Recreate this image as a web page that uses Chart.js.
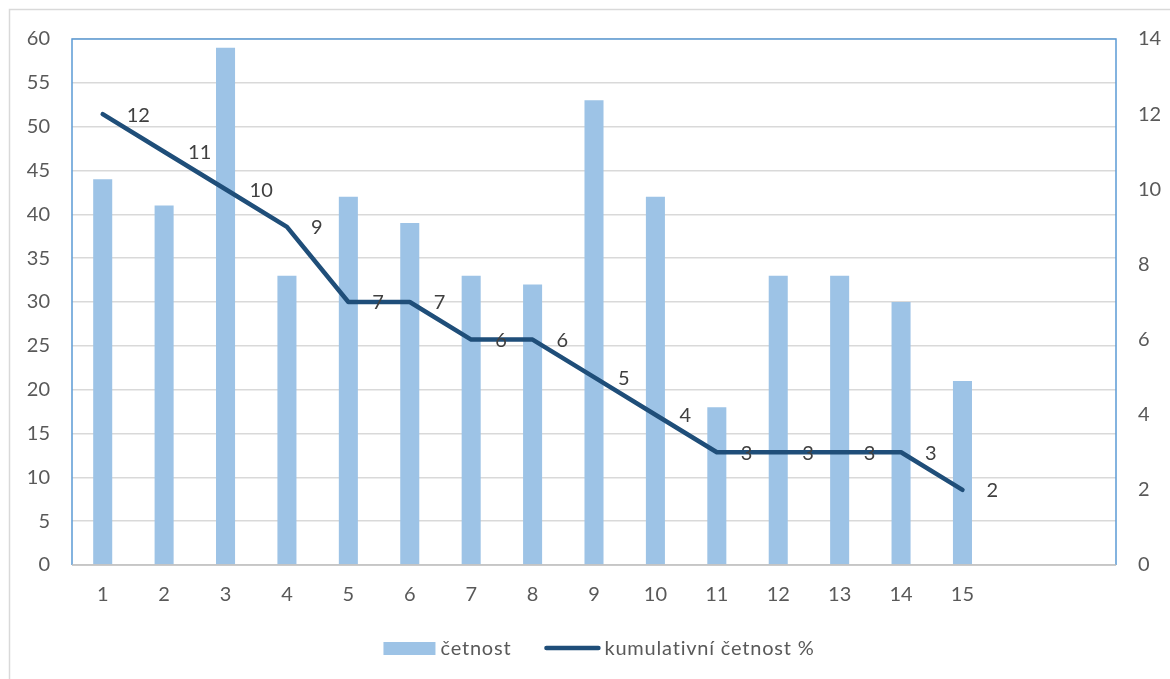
<!DOCTYPE html>
<html>
<head>
<meta charset="utf-8">
<script src="https://cdn.jsdelivr.net/npm/chart.js@4/dist/chart.umd.min.js"></script>
<style>
  html, body { margin: 0; padding: 0; background: #ffffff; }
  #wrap { width: 1170px; height: 679px; position: relative; }
</style>
</head>
<body>
<div id="wrap"><canvas id="c" width="1170" height="679"></canvas></div>
<script>
// Categories (two trailing empty slots keep the axis width)
const categories = ['1','2','3','4','5','6','7','8','9','10','11','12','13','14','15','',''];
// Frequency per category (left axis)
const cetnost = [44, 41, 59, 33, 42, 39, 33, 32, 53, 42, 18, 33, 33, 30, 21];
// Cumulative frequency % (right axis)
const kumulativni = [12, 11, 10, 9, 7, 7, 6, 6, 5, 4, 3, 3, 3, 3, 2];
// Axis tick settings
const leftTicks = { min: 0, max: 60, step: 5 };
const rightTicks = { min: 0, max: 14, step: 2 };

const FONT = 'Lato, "Open Sans", sans-serif';
const FSIZE = 20;
const BAR = '#9DC3E6';
const LINE = '#1F4E79';
const AXIS_BLUE = '#5B9BD5';
const GRID = '#D9D9D9';
const TEXT = '#595959';

// Outer chart frame and blue plot-area outline
const framePlugin = {
  id: 'frame',
  beforeDraw(chart) {
    const ctx = chart.ctx;
    ctx.save();
    ctx.fillStyle = '#ffffff';
    ctx.fillRect(0, 0, chart.width, chart.height);
    ctx.strokeStyle = '#D9D9D9';
    ctx.lineWidth = 1.5;
    ctx.strokeRect(9.5, 9.5, chart.width + 20, chart.height + 20);
    ctx.restore();
  },
  afterDatasetsDraw(chart) {
    const a = chart.chartArea, ctx = chart.ctx;
    ctx.save();
    ctx.strokeStyle = AXIS_BLUE;
    ctx.lineWidth = 1.5;
    ctx.beginPath();
    ctx.moveTo(a.left, a.bottom);
    ctx.lineTo(a.left, a.top);
    ctx.lineTo(a.right, a.top);
    ctx.lineTo(a.right, a.bottom);
    ctx.stroke();
    ctx.strokeStyle = '#BFBFBF';
    ctx.lineWidth = 1.5;
    ctx.beginPath();
    ctx.moveTo(a.left, a.bottom);
    ctx.lineTo(a.right, a.bottom);
    ctx.stroke();
    ctx.restore();
  }
};

// Value labels to the right of each line point
const lineLabels = {
  id: 'lineLabels',
  afterDatasetsDraw(chart) {
    const ctx = chart.ctx;
    const meta = chart.getDatasetMeta(1);
    const data = chart.data.datasets[1].data;
    ctx.save();
    ctx.font = FSIZE + 'px ' + FONT;
    ctx.fillStyle = '#404040';
    ctx.textAlign = 'left';
    ctx.textBaseline = 'middle';
    meta.data.forEach((pt, i) => {
      if (data[i] == null) return;
      ctx.fillText(String(data[i]), pt.x + 24, pt.y + 1);
    });
    ctx.restore();
  }
};

// Legend below the axis
const legendPlugin = {
  id: 'customLegend',
  afterDraw(chart) {
    const ctx = chart.ctx;
    const ds = chart.data.datasets;
    const y = 649;
    ctx.save();
    ctx.font = FSIZE + 'px ' + FONT;
    ctx.letterSpacing = '0.8px';
    ctx.textBaseline = 'middle';
    ctx.textAlign = 'left';
    const w0 = ctx.measureText(ds[0].label).width;
    const w1 = ctx.measureText(ds[1].label).width;
    const total = 52 + 5 + w0 + 33 + 56 + 4 + w1;
    let x = 599 - total / 2;
    ctx.fillStyle = BAR;
    ctx.fillRect(x, y - 7, 52, 13);
    x += 57;
    ctx.fillStyle = TEXT;
    ctx.fillText(ds[0].label, x, y);
    x += w0 + 33;
    ctx.strokeStyle = LINE;
    ctx.lineWidth = 4.5;
    ctx.lineCap = 'round';
    ctx.beginPath();
    ctx.moveTo(x + 2, y - 1);
    ctx.lineTo(x + 54, y - 1);
    ctx.stroke();
    x += 60;
    ctx.fillText(ds[1].label, x, y);
    ctx.restore();
  }
};

new Chart(document.getElementById('c'), {
  data: {
    labels: categories,
    datasets: [
      {
        type: 'bar',
        label: 'četnost',
        data: cetnost,
        backgroundColor: BAR,
        borderWidth: 0,
        yAxisID: 'y',
        categoryPercentage: 1,
        barPercentage: 0.31,
        order: 2
      },
      {
        type: 'line',
        label: 'kumulativní četnost %',
        data: kumulativni,
        borderColor: LINE,
        backgroundColor: LINE,
        borderWidth: 4.5,
        borderCapStyle: 'round',
        borderJoinStyle: 'round',
        pointRadius: 0,
        pointHoverRadius: 0,
        tension: 0,
        fill: false,
        yAxisID: 'y1',
        order: 1
      }
    ]
  },
  options: {
    responsive: false,
    animation: false,
    devicePixelRatio: 1,
    layout: { padding: { top: 39, left: 0, right: 0, bottom: 0 } },
    plugins: {
      legend: { display: false },
      tooltip: { enabled: false }
    },
    scales: {
      x: {
        offset: true,
        grid: { display: false },
        border: { display: false },
        ticks: { color: TEXT, font: { family: FONT, size: FSIZE }, padding: 10, maxRotation: 0, autoSkip: false },
        afterFit(s) { s.height = 114; }
      },
      y: {
        position: 'left',
        min: leftTicks.min, max: leftTicks.max,
        ticks: { stepSize: leftTicks.step, color: TEXT, font: { family: FONT, size: FSIZE }, padding: 22 },
        grid: { color: GRID, lineWidth: 1.5, drawTicks: false },
        border: { display: false },
        afterFit(s) { s.width = 72; }
      },
      y1: {
        position: 'right',
        min: rightTicks.min, max: rightTicks.max,
        ticks: { stepSize: rightTicks.step, color: TEXT, font: { family: FONT, size: FSIZE }, padding: 22 },
        grid: { display: false, drawTicks: false },
        border: { display: false },
        afterFit(s) { s.width = 54; }
      }
    }
  },
  plugins: [framePlugin, lineLabels, legendPlugin]
});
</script>
</body>
</html>
